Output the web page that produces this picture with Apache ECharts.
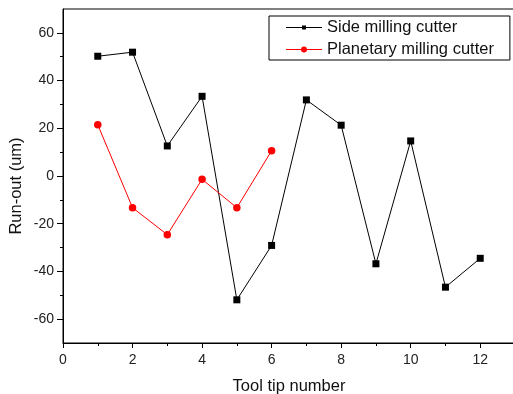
<!DOCTYPE html>
<html>
<head>
<meta charset="utf-8">
<script src="https://cdn.jsdelivr.net/npm/echarts@6/dist/echarts.min.js"></script>
<style>
  html, body { margin: 0; padding: 0; background: #fff; }
  #chart { width: 513px; height: 394px; }
</style>
</head>
<body>
<div id="chart"></div>
<script>
// Run-out per tool tip for two cutter types
const toolTips = [1, 2, 3, 4, 5, 6, 7, 8, 9, 10, 11, 12];
const sideMilling = [50.2, 51.9, 12.6, 33.4, -51.9, -29.1, 31.9, 21.3, -36.8, 14.7, -46.6, -34.5];
const planetaryTips = [1, 2, 3, 4, 5, 6];
const planetaryMilling = [21.5, -13.3, -24.6, -1.4, -13.3, 10.6];

// Axis ticks and labels
const xLabelValues = [0, 2, 4, 6, 8, 10, 12];
const xMinorValues = [1, 3, 5, 7, 9, 11];
const yLabelValues = [-60, -40, -20, 0, 20, 40, 60];
const yMinorValues = [-50, -30, -10, 10, 30, 50];

const FONT = '"Liberation Sans", Arial, sans-serif';

// Legend icons: a thin line with a small marker in the middle
const ICON_SQUARE = 'path://M0,1.5 L16,1.5 L16,0 L20,0 L20,1.5 L36,1.5 L36,2.5 L20,2.5 L20,4 L16,4 L16,2.5 L0,2.5 Z';
const ICON_CIRCLE = 'path://M0,2.5 L15,2.5 L15,3.5 L0,3.5 Z M21,2.5 L36,2.5 L36,3.5 L21,3.5 Z M15,3 A3,3 0 1 1 21,3 A3,3 0 1 1 15,3 Z';

const chart = echarts.init(document.getElementById('chart'), null, { renderer: 'canvas' });

const pairs = (xs, ys) => xs.map((x, i) => [x, ys[i]]);

const baseX = {
  type: 'value', min: 0, max: 13, interval: 1,
  splitLine: { show: false }
};
const baseY = {
  type: 'value', min: -70, max: 70, interval: 10,
  splitLine: { show: false }
};

chart.setOption({
  animation: false,
  backgroundColor: '#fff',
  grid: {
    left: 63, top: 9, width: 452, height: 334,
    outerBoundsMode: 'none',
    show: true, borderColor: '#000', borderWidth: 1, backgroundColor: 'transparent'
  },
  legend: {
    orient: 'vertical',
    left: 269, top: 16,
    padding: [3, 16, 2, 17],
    itemGap: 5,
    itemWidth: 36, itemHeight: 6,
    symbolKeepAspect: true,
    borderColor: '#000', borderWidth: 1,
    textStyle: { fontFamily: FONT, fontSize: 16.5, color: '#111', lineHeight: 16 },
    data: [
      { name: 'Side milling cutter', icon: ICON_SQUARE },
      { name: 'Planetary milling cutter', icon: ICON_CIRCLE }
    ]
  },
  graphic: [{
    type: 'text',
    x: 16, y: 186,
    rotation: Math.PI / 2,
    style: {
      text: 'Run-out (um)',
      font: '16.5px ' + FONT,
      fill: '#111',
      align: 'center',
      verticalAlign: 'middle'
    }
  }],
  xAxis: [
    Object.assign({}, baseX, {
      name: 'Tool tip number',
      nameLocation: 'middle', nameGap: 35,
      nameTextStyle: { fontFamily: FONT, fontSize: 16.5, color: '#111' },
      axisLine: { onZero: false, lineStyle: { color: '#000', width: 1 } },
      axisTick: { customValues: xLabelValues, length: 5, lineStyle: { color: '#000' } },
      axisLabel: { customValues: xLabelValues, fontFamily: FONT, fontSize: 14, color: '#222', margin: 10 }
    }),
    Object.assign({}, baseX, {
      position: 'bottom',
      axisLine: { show: false, onZero: false },
      axisTick: { customValues: xMinorValues, length: 3, lineStyle: { color: '#000' } },
      axisLabel: { show: false }
    })
  ],
  yAxis: [
    Object.assign({}, baseY, {
      axisLine: { onZero: false, lineStyle: { color: '#000', width: 1 } },
      axisTick: { customValues: yLabelValues, length: 6, lineStyle: { color: '#000' } },
      axisLabel: { customValues: yLabelValues, fontFamily: FONT, fontSize: 14, color: '#222', margin: 9 }
    }),
    Object.assign({}, baseY, {
      position: 'left',
      axisLine: { show: false, onZero: false },
      axisTick: { customValues: yMinorValues, length: 3, lineStyle: { color: '#000' } },
      axisLabel: { show: false }
    })
  ],
  series: [
    {
      name: 'Side milling cutter',
      type: 'line',
      data: pairs(toolTips, sideMilling),
      symbol: 'rect', symbolSize: 7,
      itemStyle: { color: '#000' },
      lineStyle: { color: '#000', width: 1 },
      z: 3
    },
    {
      name: 'Planetary milling cutter',
      type: 'line',
      data: pairs(planetaryTips, planetaryMilling),
      symbol: 'circle', symbolSize: 7.5,
      itemStyle: { color: '#ff0000' },
      lineStyle: { color: '#ff0000', width: 1 },
      z: 4
    }
  ]
});
</script>
</body>
</html>
